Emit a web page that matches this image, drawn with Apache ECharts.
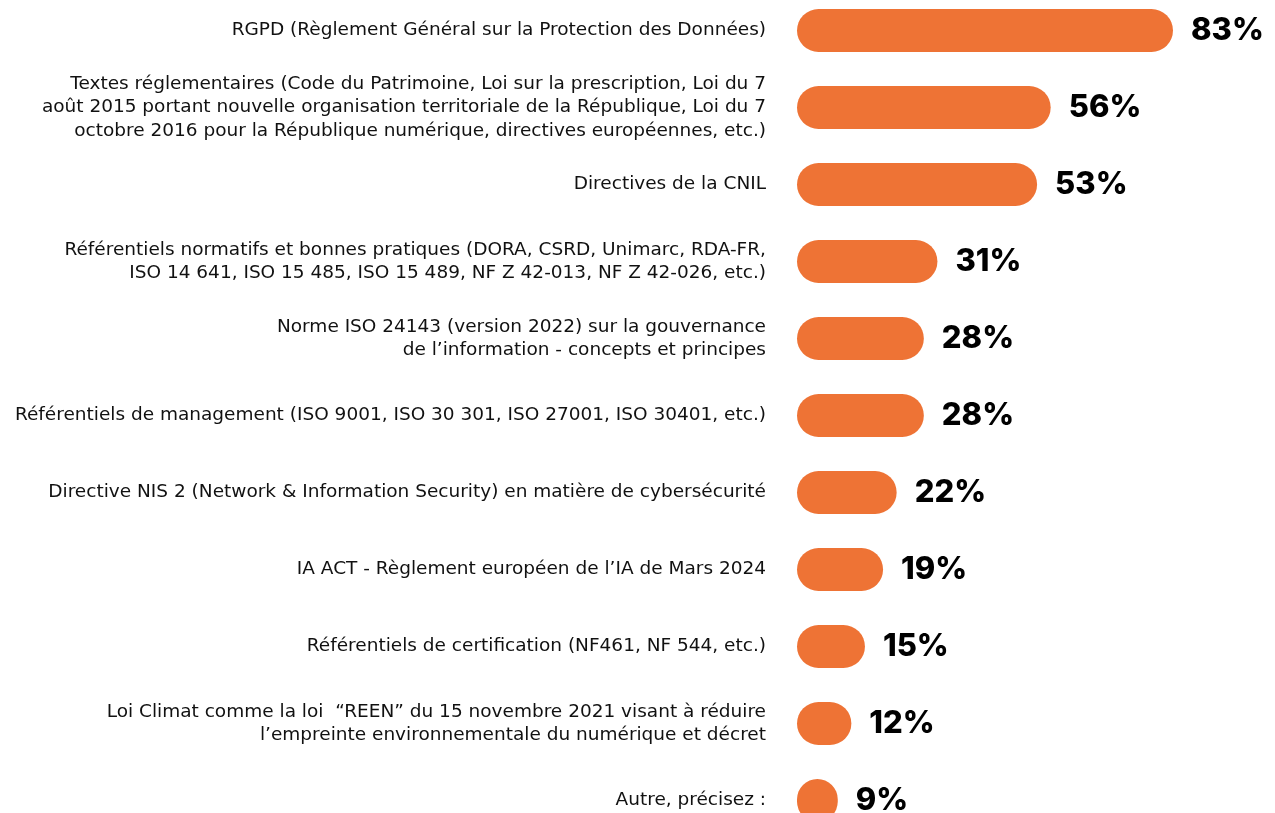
<!DOCTYPE html>
<html>
<head>
<meta charset="utf-8">
<script src="https://cdn.jsdelivr.net/npm/echarts@6/dist/echarts.min.js"></script>
<style>
  html, body { margin: 0; padding: 0; background: #fff; }
  #chart { width: 1275px; height: 813px; }
</style>
</head>
<body>
<div id="chart"></div>
<script>
const categories = [
  "RGPD (Règlement Général sur la Protection des Données)",
  "Textes réglementaires (Code du Patrimoine, Loi sur la prescription, Loi du 7\naoût 2015 portant nouvelle organisation territoriale de la République, Loi du 7\noctobre 2016 pour la République numérique, directives européennes, etc.)",
  "Directives de la CNIL",
  "Référentiels normatifs et bonnes pratiques (DORA, CSRD, Unimarc, RDA-FR,\nISO 14 641, ISO 15 485, ISO 15 489, NF Z 42-013, NF Z 42-026, etc.)",
  "Norme ISO 24143 (version 2022) sur la gouvernance\nde l’information - concepts et principes",
  "Référentiels de management (ISO 9001, ISO 30 301, ISO 27001, ISO 30401, etc.)",
  "Directive NIS 2 (Network & Information Security) en matière de cybersécurité",
  "IA ACT - Règlement européen de l’IA de Mars 2024",
  "Référentiels de certification (NF461, NF 544, etc.)",
  "Loi Climat comme la loi  “REEN” du 15 novembre 2021 visant à réduire\nl’empreinte environnementale du numérique et décret",
  "Autre, précisez :"
];
const values = [83, 56, 53, 31, 28, 28, 22, 19, 15, 12, 9];

const chart = echarts.init(document.getElementById("chart"));
chart.setOption({
  animation: false,
  grid: { left: 797, right: 25, top: -8, height: 847, outerBoundsMode: "none" },
  xAxis: {
    type: "value",
    min: 0,
    max: 100,
    show: false
  },
  yAxis: {
    type: "category",
    inverse: true,
    data: categories,
    axisLine: { show: false },
    axisTick: { show: false },
    axisLabel: {
      margin: 31,
      color: "#111",
      fontFamily: "DejaVu Sans",
      fontSize: 18.5,
      lineHeight: 23.5,
      align: "right"
    }
  },
  series: [
    {
      type: "bar",
      data: values,
      barWidth: 43,
      itemStyle: { color: "#EE7335", borderRadius: 21.5 },
      label: {
        show: true,
        position: "right",
        distance: 18,
        formatter: "{c}%",
        color: "#000",
        fontFamily: "Inter",
        fontWeight: 800,
        fontSize: 31
      }
    }
  ]
});
</script>
</body>
</html>
